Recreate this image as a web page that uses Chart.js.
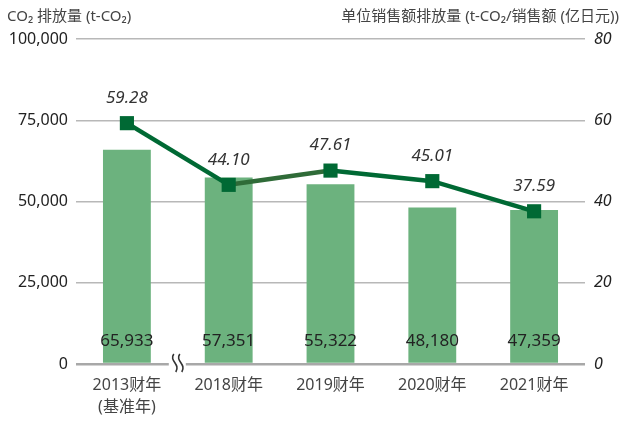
<!DOCTYPE html>
<html><head><meta charset="utf-8">
<script src="https://cdn.jsdelivr.net/npm/chart.js@4.4.0/dist/chart.umd.min.js"></script>
<style>html,body{margin:0;padding:0;background:#fff}#wrap{width:622px;height:421px}</style>
</head><body><div id="wrap"><canvas id="c"></canvas></div>
<script>
const categories = [["2013财年","(基准年)"],"2018财年","2019财年","2020财年","2021财年"];
const emissions = [65933, 57351, 55322, 48180, 47359];
const intensity = [59.28, 44.10, 47.61, 45.01, 37.59];
const leftTicks = [0, 25000, 50000, 75000, 100000];
const rightTicks = [0, 20, 40, 60, 80];
const leftTitle = "CO\u2082 排放量 (t-CO\u2082)";
const rightTitle = "单位销售额排放量 (t-CO\u2082/销售额 (亿日元))";

const FONT = '"Noto Sans", "Noto Sans CJK SC", sans-serif';
const fmt = v => v.toLocaleString('en-US');

const overlay = {
  id: 'overlay',
  afterDatasetsDraw(chart) {
    const ctx = chart.ctx, ca = chart.chartArea;
    const xs = chart.scales.x;
    ctx.save();
    // break mark
    const bx = (xs.getPixelForValue(0) + xs.getPixelForValue(1)) / 2;
    ctx.fillStyle = '#fff';
    ctx.fillRect(bx - 9, ca.bottom - 4, 17, 8);
    ctx.strokeStyle = '#333'; ctx.lineWidth = 1.6;
    [-3, 3].forEach(dx => {
      const x = bx + dx, y0 = ca.bottom - 10, y1 = ca.bottom + 8;
      ctx.beginPath();
      ctx.moveTo(x - 1, y0);
      ctx.bezierCurveTo(x - 6, y0 + 7, x + 6, y1 - 8, x + 1, y1);
      ctx.stroke();
    });
    // bar labels
    ctx.fillStyle = '#222';
    ctx.font = '17px ' + FONT;
    ctx.textAlign = 'center'; ctx.textBaseline = 'middle';
    const bm = chart.getDatasetMeta(0);
    bm.data.forEach((el, i) => ctx.fillText(fmt(emissions[i]), el.x, ca.bottom - 23));
    // line labels
    ctx.font = 'italic 17px ' + FONT;
    ctx.fillStyle = '#333';
    const lm = chart.getDatasetMeta(1);
    lm.data.forEach((el, i) => ctx.fillText(intensity[i].toFixed(2), el.x, el.y - 25));
    // axis titles
    ctx.font = '15px ' + FONT;
    ctx.fillStyle = '#444';
    ctx.textBaseline = 'alphabetic';
    ctx.textAlign = 'left';
    ctx.fillText(leftTitle, 7, 21);
    ctx.textAlign = 'right';
    ctx.fillText(rightTitle, chart.width - 3, 21);
    ctx.restore();
  }
};

new Chart(document.getElementById('c'), {
  data: {
    labels: categories,
    datasets: [
      { type: 'bar', data: emissions, yAxisID: 'y', backgroundColor: '#6cb27e',
        barPercentage: 0.94, categoryPercentage: 0.5, order: 2 },
      { type: 'line', data: intensity, yAxisID: 'y1', borderColor: '#006934', borderWidth: 4.5,
        pointStyle: 'rect', pointRadius: 10, pointBackgroundColor: '#006934', pointBorderColor: '#006934',
        pointBorderWidth: 0, tension: 0, order: 1,
        segment: { borderColor: c => c.p0DataIndex === 1 ? '#2f6b38' : '#006934' } }
    ]
  },
  options: {
    responsive: true, maintainAspectRatio: false, animation: false,
    layout: { padding: { top: 39, right: 4, left: 0, bottom: 0 } },
    plugins: { legend: { display: false }, tooltip: { enabled: false } },
    scales: {
      x: {
        afterFit: s => { s.height = 57; },
        grid: { display: false, drawTicks: false }, border: { display: false },
        ticks: { color: '#444', font: { family: FONT, size: 16, lineHeight: 1.375 }, padding: 10, maxRotation: 0 }
      },
      y: {
        position: 'left', min: 0, max: 100000,
        afterBuildTicks: s => { s.ticks = leftTicks.map(v => ({ value: v })); },
        afterFit: s => { s.width = 76; },
        grid: { color: c => c.tick.value === 0 ? '#a8a8a8' : '#b8b8b8', lineWidth: c => c.tick.value === 0 ? 2.5 : 1.5, drawTicks: false },
        border: { display: false },
        ticks: { color: '#222', font: { family: FONT, size: 16 }, padding: 8, callback: v => fmt(v) }
      },
      y1: {
        position: 'right', min: 0, max: 80,
        afterBuildTicks: s => { s.ticks = rightTicks.map(v => ({ value: v })); },
        afterFit: s => { s.width = 33; },
        grid: { display: false, drawTicks: false }, border: { display: false },
        ticks: { color: '#222', font: { family: FONT, size: 16, style: 'italic' }, padding: 9 }
      }
    }
  },
  plugins: [overlay]
});
</script></body></html>
